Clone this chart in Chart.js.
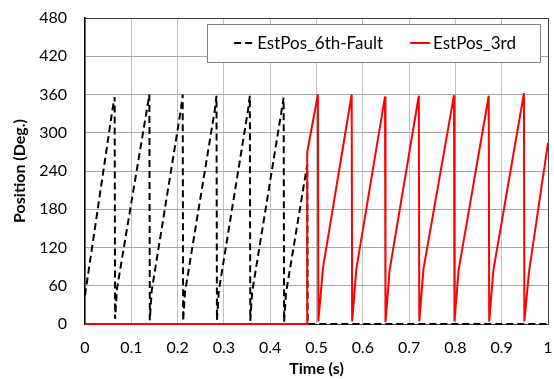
<!DOCTYPE html>
<html>
<head>
<meta charset="utf-8">
<script src="https://cdn.jsdelivr.net/npm/chart.js@4.4.1/dist/chart.umd.min.js"></script>
<style>
  html, body { margin: 0; padding: 0; background: #fff; }
  #wrap { width: 554px; height: 379px; }
</style>
</head>
<body>
<div id="wrap"><canvas id="chart"></canvas></div>
<script>
// Axis ticks
const timeTicks = [0, 0.1, 0.2, 0.3, 0.4, 0.5, 0.6, 0.7, 0.8, 0.9, 1];
const positionTicks = [0, 60, 120, 180, 240, 300, 360, 420, 480];

// Estimated position, 6th-harmonic fault case (s, deg)
const faultTime = [0, 0.059, 0.064, 0.065, 0.069, 0.134, 0.139, 0.140, 0.144, 0.207, 0.211, 0.212, 0.216,
  0.280, 0.284, 0.285, 0.289, 0.352, 0.356, 0.357, 0.361, 0.424, 0.429, 0.430, 0.434, 0.480, 0.481, 1.0];
const faultDeg = [45, 335, 356, 8, 55, 338, 360, 6, 52, 336, 360, 5, 50,
  334, 358, 6, 52, 335, 358, 5, 50, 332, 355, 3, 48, 250, 0, 0];

// Estimated position, 3rd-harmonic case (s, deg)
const thirdTime = [0, 0.480, 0.480, 0.503, 0.504, 0.514, 0.576, 0.577, 0.586, 0.648, 0.649, 0.658,
  0.721, 0.722, 0.731, 0.797, 0.798, 0.807, 0.872, 0.873, 0.882, 0.948, 0.949, 0.959, 1.0];
const thirdDeg = [0, 0, 270, 360, 4, 88, 360, 4, 86, 357, 3, 85,
  358, 4, 86, 359, 4, 85, 358, 4, 84, 362, 4, 82, 284];

const seriesLabels = ['EstPos_6th-Fault', 'EstPos_3rd'];

const toPoints = (xs, ys) => xs.map((x, i) => ({ x: x, y: ys[i] }));

const FONT = 'Lato, "Open Sans", sans-serif';

// legend drawn as a framed box inside the plot, top right
const insideLegend = {
  id: 'insideLegend',
  afterDraw(chart) {
    const { ctx, chartArea } = chart;
    const sets = chart.data.datasets;
    ctx.save();
    ctx.font = '17px ' + FONT;
    const padL = 27, padR = 24, sample = 20, gap = 3, itemGap = 27;
    const widths = sets.map(ds => ctx.measureText(ds.label).width);
    let boxW = padL + padR + itemGap * (sets.length - 1);
    widths.forEach(w => { boxW += sample + gap + w; });
    const right = chartArea.right - 8;
    const top = chartArea.top + 6;
    const boxH = 38;
    const left = right - boxW;
    ctx.fillStyle = '#fff';
    ctx.fillRect(left, top, boxW, boxH);
    ctx.strokeStyle = '#808080';
    ctx.lineWidth = 1;
    ctx.strokeRect(Math.round(left) + 0.5, top + 0.5, Math.round(boxW), boxH);

    const cy = top + boxH / 2;
    let x = left + padL;
    sets.forEach((ds, i) => {
      ctx.beginPath();
      ctx.setLineDash(ds.borderDash || []);
      ctx.strokeStyle = ds.borderColor;
      ctx.lineWidth = ds.borderWidth;
      ctx.moveTo(x, cy);
      ctx.lineTo(x + sample, cy);
      ctx.stroke();
      ctx.setLineDash([]);
      x += sample + gap;
      ctx.fillStyle = '#000';
      ctx.textBaseline = 'middle';
      ctx.textAlign = 'left';
      ctx.fillText(ds.label, x, cy + 1);
      x += widths[i] + itemGap;
    });
    ctx.restore();
  }
};

new Chart(document.getElementById('chart'), {
  type: 'line',
  data: {
    datasets: [
      {
        label: seriesLabels[0],
        data: toPoints(faultTime, faultDeg),
        borderColor: '#000000',
        borderWidth: 2,
        borderDash: [7, 4],
        pointRadius: 0,
        tension: 0,
        clip: false,
        order: 1
      },
      {
        label: seriesLabels[1],
        data: toPoints(thirdTime, thirdDeg),
        borderColor: '#ff0000',
        borderWidth: 2,
        pointRadius: 0,
        tension: 0,
        clip: false,
        order: 0
      }
    ]
  },
  options: {
    responsive: true,
    maintainAspectRatio: false,
    animation: false,
    layout: { padding: { top: 18, right: 6, left: 0, bottom: 0 } },
    plugins: {
      legend: { display: false },
      tooltip: { enabled: false }
    },
    scales: {
      x: {
        type: 'linear',
        min: 0,
        max: 1,
        afterBuildTicks: (scale) => { scale.ticks = timeTicks.map(v => ({ value: v })); },
        afterFit: (scale) => {
          scale.height = 55;
          scale.paddingLeft = 0;
          scale.paddingRight = 0;
        },
        ticks: {
          color: '#000',
          padding: 14,
          maxRotation: 0,
          autoSkip: false,
          font: { family: FONT, size: 16 },
          callback: (v) => String(v)
        },
        grid: {
          drawTicks: false,
          color: (c) => (c.tick && c.tick.value === 1 ? '#404040' : '#c0c0c0'),
          lineWidth: 1
        },
        border: { color: '#404040', width: 1 },
        title: {
          display: true,
          text: 'Time (s)',
          color: '#000',
          font: { family: FONT, size: 16, weight: 'bold' },
          padding: { top: 0, bottom: 1 }
        }
      },
      y: {
        min: 0,
        max: 480,
        afterBuildTicks: (scale) => { scale.ticks = positionTicks.map(v => ({ value: v })); },
        afterFit: (scale) => {
          scale.width = 85;
          scale.paddingTop = 0;
          scale.paddingBottom = 0;
        },
        ticks: {
          color: '#000',
          padding: 18,
          autoSkip: false,
          font: { family: FONT, size: 16 },
          callback: (v) => String(v)
        },
        grid: {
          drawTicks: false,
          color: (c) => (c.tick && c.tick.value === 480 ? '#404040' : '#a6a6a6'),
          lineWidth: 1
        },
        border: { color: '#000000', width: 1.5 },
        title: {
          display: true,
          text: 'Position (Deg.)',
          color: '#000',
          font: { family: FONT, size: 16, weight: 'bold' },
          padding: { top: 10, bottom: 0 }
        }
      }
    }
  },
  plugins: [insideLegend]
});
</script>
</body>
</html>
